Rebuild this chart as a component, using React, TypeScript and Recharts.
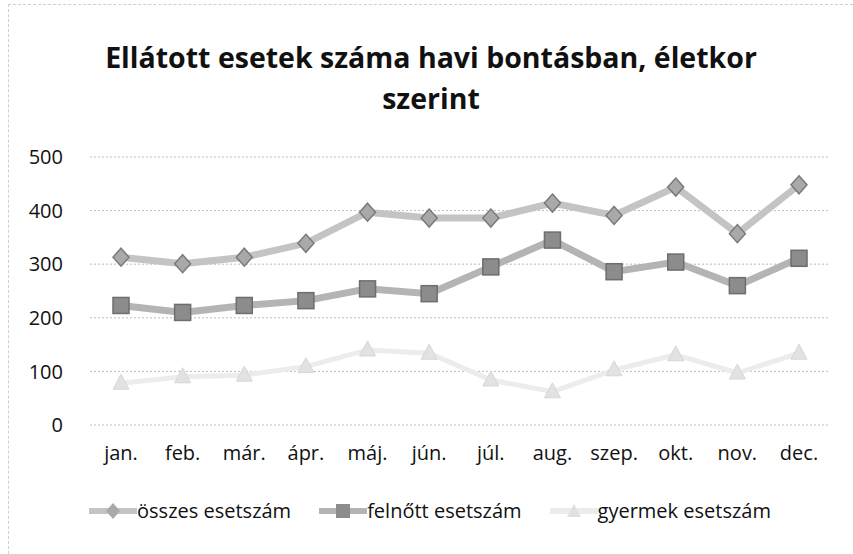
import React from 'react';
import { LineChart, Line, XAxis, YAxis, CartesianGrid, Legend } from 'recharts';

const months = ['jan.', 'feb.', 'már.', 'ápr.', 'máj.', 'jún.', 'júl.', 'aug.', 'szep.', 'okt.', 'nov.', 'dec.'];
const osszes = [313, 301, 313, 339, 397, 386, 386, 414, 391, 444, 357, 448];
const felnott = [223, 210, 223, 232, 254, 245, 295, 345, 286, 304, 260, 311];
const gyermek = [78, 90, 93, 109, 140, 134, 84, 62, 103, 131, 97, 134];
const yTicks = [0, 100, 200, 300, 400, 500];

const chartData = months.map((m, i) => ({
  month: m,
  osszes: osszes[i],
  felnott: felnott[i],
  gyermek: gyermek[i]
}));

const FONT = '"Open Sans", "Noto Sans", sans-serif';

const DiamondDot = ({ cx, cy }: any) => {
  if (cx == null || cy == null) return null;
  return (
    <path
      d={`M${cx},${cy - 9} L${cx + 8},${cy} L${cx},${cy + 9} L${cx - 8},${cy} Z`}
      fill="#a9a9a9"
      stroke="#7a7a7a"
      strokeWidth={1.5}
    />
  );
};

const SquareDot = ({ cx, cy }: any) => {
  if (cx == null || cy == null) return null;
  return <rect x={cx - 8} y={cy - 8} width={16} height={16} fill="#8c8c8c" stroke="#6e6e6e" strokeWidth={1.5} />;
};

const TriangleDot = ({ cx, cy }: any) => {
  if (cx == null || cy == null) return null;
  return <path d={`M${cx},${cy - 9} L${cx + 8},${cy + 6} L${cx - 8},${cy + 6} Z`} fill="#e2e2e2" stroke="#d6d6d6" strokeWidth={1} />;
};

const legendItems = [
  { label: 'összes esetszám', color: '#c4c4c4', marker: 'diamond' },
  { label: 'felnőtt esetszám', color: '#b4b4b4', marker: 'square' },
  { label: 'gyermek esetszám', color: '#ececec', marker: 'triangle' }
];

const LegendContent = () => (
  <div style={{ display: 'flex', justifyContent: 'center', alignItems: 'center', gap: 28, fontFamily: FONT, fontSize: 20, lineHeight: '26px', color: '#111', paddingLeft: 10 }}>
    {legendItems.map((it) => (
      <div key={it.label} style={{ display: 'flex', alignItems: 'center' }}>
        <svg width={48} height={20}>
          <line x1={0} y1={10} x2={48} y2={10} stroke={it.color} strokeWidth={6} />
          {it.marker === 'diamond' && <path d="M24,2 L31,10 L24,18 L17,10 Z" fill="#a9a9a9" />}
          {it.marker === 'square' && <rect x={17} y={3} width={14} height={14} fill="#8c8c8c" />}
          {it.marker === 'triangle' && <path d="M24,3 L31,16 L17,16 Z" fill="#e0e0e0" />}
        </svg>
        <span>{it.label}</span>
      </div>
    ))}
  </div>
);

export default function App() {
  return (
    <div style={{ position: 'absolute', left: 0, top: 0, width: 853, height: 554, background: '#fff', overflow: 'hidden' }}>
      <div style={{ position: 'absolute', left: 8, top: 4, right: 0, bottom: 0, borderTop: '1px dashed #cfcfcf', borderLeft: '1px dashed #cfcfcf' }} />
      <div
        style={{
          position: 'absolute',
          left: 0,
          top: 37,
          width: 862,
          textAlign: 'center',
          fontFamily: FONT,
          fontWeight: 700,
          fontSize: 28.5,
          lineHeight: '41px',
          color: '#111'
        }}
      >
        Ellátott esetek száma havi bontásban, életkor
        <br />
        szerint
      </div>
      <LineChart width={853} height={554} data={chartData} margin={{ top: 157, right: 23, bottom: 0, left: 20 }}>
        <CartesianGrid vertical={false} stroke="#bcbcbc" strokeDasharray="2 2" />
        <XAxis
          dataKey="month"
          axisLine={false}
          tickLine={false}
          padding={{ left: 31, right: 31 }}
          tick={{ fontSize: 20, fill: '#111', fontFamily: FONT }}
          tickMargin={15}
          height={73}
        />
        <YAxis
          domain={[0, 500]}
          ticks={yTicks}
          width={70}
          axisLine={false}
          tickLine={false}
          tick={{ fontSize: 20, fill: '#111', fontFamily: FONT }}
          tickMargin={21}
        />
        <Legend verticalAlign="bottom" height={56} content={<LegendContent />} />
        <Line
          dataKey="gyermek"
          name="gyermek esetszám"
          stroke="#ececec"
          strokeWidth={5}
          dot={<TriangleDot />}
          isAnimationActive={false}
        />
        <Line
          dataKey="felnott"
          name="felnőtt esetszám"
          stroke="#b4b4b4"
          strokeWidth={7}
          dot={<SquareDot />}
          isAnimationActive={false}
        />
        <Line
          dataKey="osszes"
          name="összes esetszám"
          stroke="#c4c4c4"
          strokeWidth={7}
          dot={<DiamondDot />}
          isAnimationActive={false}
        />
      </LineChart>
    </div>
  );
}
